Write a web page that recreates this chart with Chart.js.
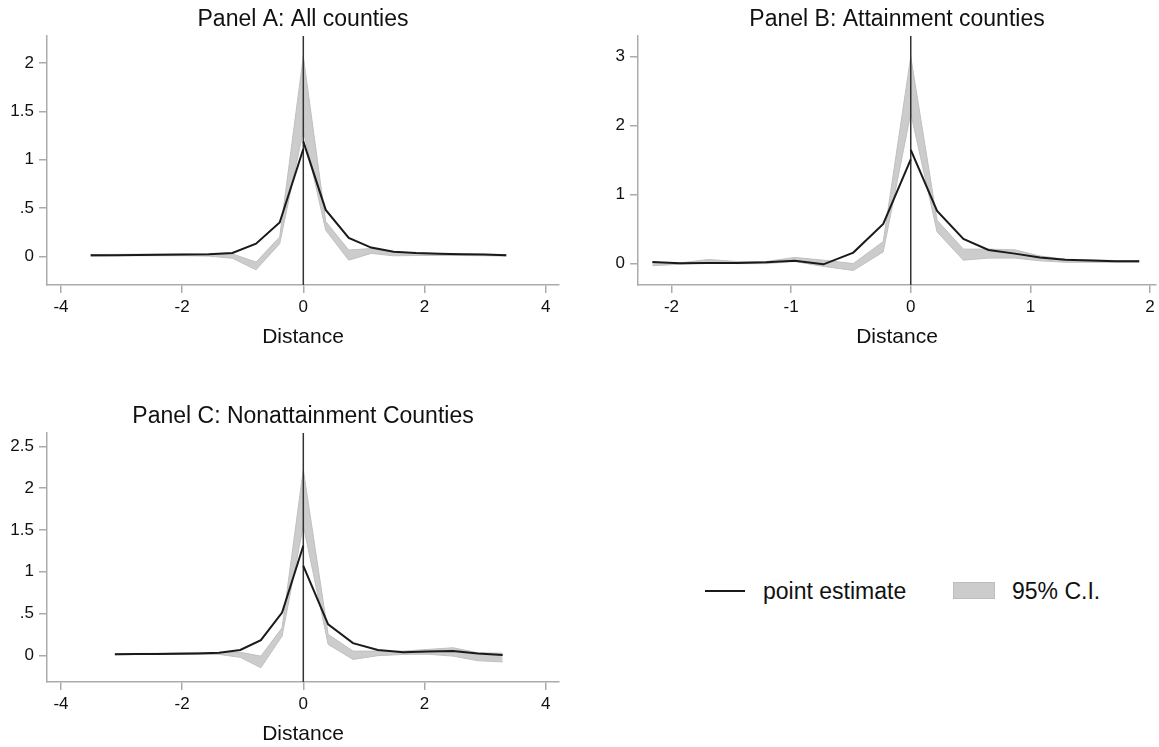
<!DOCTYPE html>
<html>
<head>
<meta charset="utf-8">
<script src="https://cdn.jsdelivr.net/npm/chart.js@4.4.1/dist/chart.umd.min.js"></script>
<style>
  body { margin: 0; background: #fff; font-family: 'Liberation Sans', Arial, sans-serif; }
  #wrap { position: relative; width: 1159px; height: 747px; overflow: hidden; }
  canvas { position: absolute; }
  .legend-text { position: absolute; font-size: 23px; color: #111; line-height: 26px; }
</style>
</head>
<body>
<div id="wrap">
  <canvas id="panelA" width="580" height="350" style="left:0;top:0"></canvas>
  <canvas id="panelB" width="568" height="350" style="left:591px;top:0"></canvas>
  <canvas id="panelC" width="580" height="350" style="left:0;top:397px"></canvas>

  <div style="position:absolute;left:705px;top:590px;width:40px;height:2px;background:#1a1a1a"></div>
  <div class="legend-text" style="left:763px;top:578px">point estimate</div>
  <div style="position:absolute;left:953px;top:582px;width:40px;height:15px;background:#cccccc;border:1px solid #bdbdbd"></div>
  <div class="legend-text" style="left:1012px;top:578px">95% C.I.</div>
</div>

<script>
// Panel A: all counties
const aLeftX = [-3.51, -3.12, -2.73, -2.34, -1.95, -1.56, -1.17, -0.78, -0.39, 0];
const aLeftEst = [0.010, 0.012, 0.014, 0.016, 0.018, 0.022, 0.035, 0.13, 0.35, 1.11];
const aLeftLo = [0.000, 0.004, 0.006, 0.006, 0.006, 0.002, -0.02, -0.14, 0.13, 1.30];
const aLeftHi = [0.018, 0.020, 0.022, 0.024, 0.024, 0.022, 0.025, -0.06, 0.20, 2.07];
const aRightX = [0, 0.37, 0.75, 1.12, 1.49, 1.86, 2.24, 2.61, 2.98, 3.35];
const aRightEst = [1.19, 0.48, 0.19, 0.09, 0.048, 0.035, 0.027, 0.022, 0.018, 0.010];
const aRightLo = [1.30, 0.27, -0.04, 0.03, 0.005, 0.008, 0.008, 0.008, 0.006, 0.002];
const aRightHi = [2.07, 0.36, 0.065, 0.08, 0.048, 0.035, 0.030, 0.026, 0.022, 0.018];
const aYTicks = [0, 0.5, 1, 1.5, 2];
const aXTicks = [-4, -2, 0, 2, 4];

// Panel B: attainment counties
const bLeftX = [-2.16, -1.93, -1.69, -1.45, -1.21, -0.97, -0.73, -0.48, -0.23, 0];
const bLeftEst = [0.024, 0.005, 0.01, 0.01, 0.02, 0.04, -0.01, 0.16, 0.575, 1.51];
const bLeftLo = [-0.03, -0.01, 0.01, 0.0, 0.0, 0.03, -0.04, -0.10, 0.17, 2.18];
const bLeftHi = [0.01, 0.01, 0.06, 0.03, 0.03, 0.09, 0.05, 0.0, 0.32, 3.0];
const bRightX = [0, 0.22, 0.44, 0.65, 0.87, 1.08, 1.29, 1.50, 1.71, 1.91];
const bRightEst = [1.65, 0.763, 0.357, 0.198, 0.145, 0.09, 0.055, 0.045, 0.036, 0.034];
const bRightLo = [2.18, 0.46, 0.05, 0.08, 0.08, 0.04, 0.02, 0.02, 0.02, 0.02];
const bRightHi = [3.0, 0.63, 0.21, 0.21, 0.20, 0.11, 0.065, 0.055, 0.045, 0.045];
const bYTicks = [0, 1, 2, 3];
const bXTicks = [-2, -1, 0, 1, 2];

// Panel C: nonattainment counties
const cLeftX = [-3.11, -2.77, -2.42, -2.08, -1.73, -1.39, -1.04, -0.70, -0.35, 0];
const cLeftEst = [0.012, 0.014, 0.016, 0.018, 0.022, 0.03, 0.064, 0.18, 0.51, 1.31];
const cLeftLo = [0.005, 0.008, 0.01, 0.012, 0.014, 0.01, -0.025, -0.15, 0.23, 1.55];
const cLeftHi = [0.02, 0.022, 0.024, 0.03, 0.035, 0.03, 0.035, -0.01, 0.33, 2.22];
const cRightX = [0, 0.41, 0.82, 1.23, 1.65, 2.06, 2.47, 2.88, 3.29];
const cRightEst = [1.07, 0.37, 0.145, 0.062, 0.036, 0.044, 0.05, 0.02, 0.003];
const cRightLo = [1.55, 0.13, -0.05, -0.005, 0.01, 0.012, -0.01, -0.065, -0.08];
const cRightHi = [2.22, 0.25, 0.05, 0.05, 0.05, 0.07, 0.09, 0.03, 0.025];
const cYTicks = [0, 0.5, 1, 1.5, 2, 2.5];
const cXTicks = [-4, -2, 0, 2, 4];

const FONT = "'Liberation Sans', Arial, sans-serif";
const AXIS_GREY = '#ababab';
const BAND_FILL = 'rgb(204,204,204)';
const BAND_EDGE = 'rgb(192,192,192)';

const toPoints = (xs, ys) => xs.map((x, i) => ({ x: x, y: ys[i] }));

// stata style labels: .5 instead of 0.5
const stataLabel = (v) => (v === 0 ? '0' : String(v).replace(/^(-?)0\./, '$1.'));

function makePanel(id, cfg) {
  const ctx = document.getElementById(id).getContext('2d');
  const line = (data, extra) => Object.assign({
    data: data,
    pointRadius: 0,
    tension: 0,
    fill: false,
  }, extra);

  return new Chart(ctx, {
    type: 'line',
    data: {
      datasets: [
        line(toPoints(cfg.leftX, cfg.leftEst), { borderColor: '#1a1a1a', borderWidth: 2, order: 0 }),
        line(toPoints(cfg.rightX, cfg.rightEst), { borderColor: '#1a1a1a', borderWidth: 2, order: 0 }),
        // xline(0)
        line([{ x: 0, y: cfg.yMin }, { x: 0, y: cfg.yMax }], { borderColor: '#333333', borderWidth: 1.5, order: 1 }),
        line(toPoints(cfg.leftX, cfg.leftLo), { borderColor: BAND_EDGE, borderWidth: 1, order: 2 }),
        line(toPoints(cfg.leftX, cfg.leftHi), { borderColor: BAND_EDGE, borderWidth: 1, order: 2, fill: { target: 3 }, backgroundColor: BAND_FILL }),
        line(toPoints(cfg.rightX, cfg.rightLo), { borderColor: BAND_EDGE, borderWidth: 1, order: 2 }),
        line(toPoints(cfg.rightX, cfg.rightHi), { borderColor: BAND_EDGE, borderWidth: 1, order: 2, fill: { target: 5 }, backgroundColor: BAND_FILL }),
      ],
    },
    options: {
      responsive: false,
      animation: false,
      devicePixelRatio: 1,
      layout: { padding: { left: 0, right: cfg.padRight, top: 0, bottom: 0 } },
      plugins: {
        legend: { display: false },
        tooltip: { enabled: false },
        title: {
          display: true,
          text: cfg.title,
          fullSize: false,
          color: '#111',
          font: { family: FONT, size: 23, weight: 'normal' },
          padding: { top: 6, bottom: 2.4 },
        },
      },
      scales: {
        x: {
          type: 'linear',
          min: cfg.xMin,
          max: cfg.xMax,
          afterBuildTicks: (scale) => { scale.ticks = cfg.xTicks.map((v) => ({ value: v })); },
          afterFit: (scale) => { scale.height = 65; },
          ticks: {
            color: '#111',
            font: { family: FONT, size: 17 },
            padding: 4,
            maxRotation: 0,
            callback: (v) => String(v),
          },
          grid: { display: true, drawOnChartArea: false, drawTicks: true, tickLength: 8, color: AXIS_GREY, lineWidth: 1.5 },
          border: { display: true, color: AXIS_GREY, width: 1.5 },
          title: {
            display: true,
            text: 'Distance',
            color: '#111',
            font: { family: FONT, size: 21 },
            padding: { top: 0, bottom: 0 },
          },
        },
        y: {
          type: 'linear',
          min: cfg.yMin,
          max: cfg.yMax,
          afterBuildTicks: (scale) => { scale.ticks = cfg.yTicks.map((v) => ({ value: v })); },
          afterFit: (scale) => { scale.width = 47; },
          ticks: {
            color: '#111',
            font: { family: FONT, size: 17 },
            padding: 5,
            callback: stataLabel,
          },
          grid: { display: true, drawOnChartArea: false, drawTicks: true, tickLength: 8, color: AXIS_GREY, lineWidth: 1.5 },
          border: { display: true, color: AXIS_GREY, width: 1.5 },
        },
      },
    },
  });
}

makePanel('panelA', {
  title: 'Panel A: All counties',
  leftX: aLeftX, leftEst: aLeftEst, leftLo: aLeftLo, leftHi: aLeftHi,
  rightX: aRightX, rightEst: aRightEst, rightLo: aRightLo, rightHi: aRightHi,
  xMin: -4.23, xMax: 4.22, yMin: -0.297, yMax: 2.28,
  xTicks: aXTicks, yTicks: aYTicks, padRight: 21,
});

makePanel('panelB', {
  title: 'Panel B: Attainment counties',
  leftX: bLeftX, leftEst: bLeftEst, leftLo: bLeftLo, leftHi: bLeftHi,
  rightX: bRightX, rightEst: bRightEst, rightLo: bRightLo, rightHi: bRightHi,
  xMin: -2.28, xMax: 2.05, yMin: -0.31, yMax: 3.30,
  xTicks: bXTicks, yTicks: bYTicks, padRight: 3,
});

makePanel('panelC', {
  title: 'Panel C: Nonattainment Counties',
  leftX: cLeftX, leftEst: cLeftEst, leftLo: cLeftLo, leftHi: cLeftHi,
  rightX: cRightX, rightEst: cRightEst, rightLo: cRightLo, rightHi: cRightHi,
  xMin: -4.23, xMax: 4.22, yMin: -0.32, yMax: 2.66,
  xTicks: cXTicks, yTicks: cYTicks, padRight: 21,
});
</script>
</body>
</html>
